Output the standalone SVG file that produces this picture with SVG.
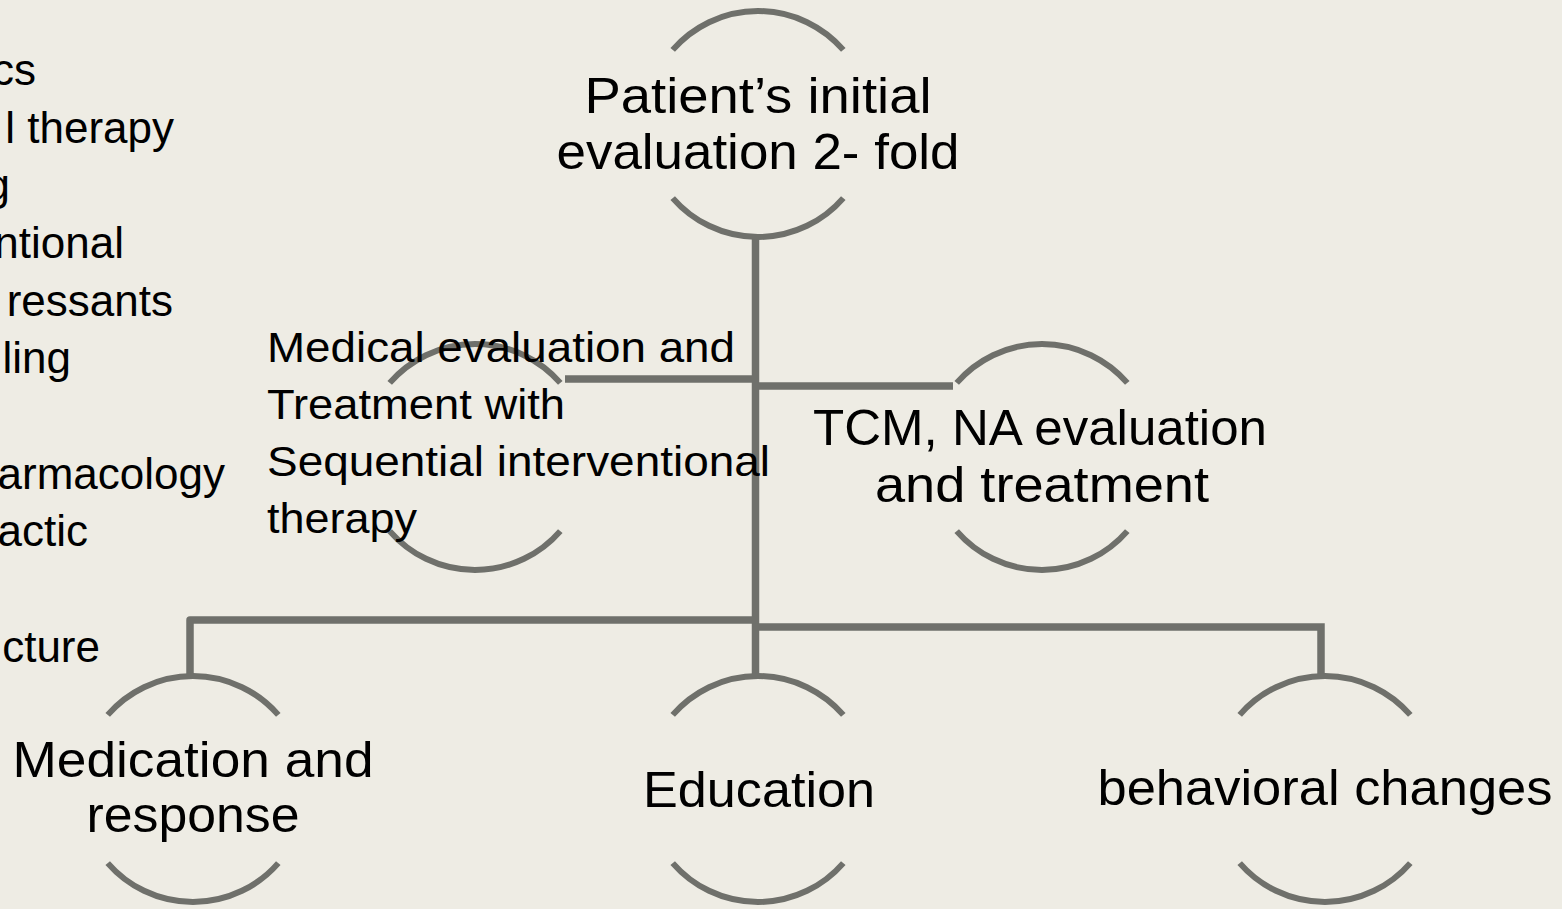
<svg xmlns="http://www.w3.org/2000/svg" width="1562" height="909" viewBox="0 0 1562 909">
<style>
.arc{fill:none;stroke:#6f706b;stroke-width:6}
.conn{fill:none;stroke:#6f706b;stroke-width:7.5}
.t{font-family:"Liberation Sans",Arial,sans-serif;fill:#000}
.big{font-size:50px}
.mid{font-size:43px}
.side{font-size:44px}
</style>
<rect width="1562" height="909" fill="#eeece4"/>
<g id="background-list" class="t side" text-anchor="end">
<text x="36" y="85">cs</text>
<text x="174" y="143">l therapy</text>
<text x="10" y="200">g</text>
<text x="124" y="258">ntional</text>
<text x="173" y="316">ressants</text>
<text x="71" y="373">ling</text>
<text x="225" y="489">armacology</text>
<text x="88" y="546">actic</text>
<text x="100" y="662">cture</text>
</g>
<g id="connectors">
<path class="conn" d="M755.5 236 V676"/>
<path class="conn" d="M755 379 H565"/>
<path class="conn" d="M755 386 H953"/>
<path class="conn" stroke-linejoin="round" d="M755 620 H190 V676"/>
<path class="conn" d="M755 627 H1321 V676"/>
</g>
<g id="node-initial">
<path class="arc" d="M672.7 49.9 A113 113 0 0 1 843.3 49.9"/>
<path class="arc" d="M672.7 198.1 A113 113 0 0 0 843.3 198.1"/>
<text class="t big" text-anchor="middle" x="758" y="113" textLength="347" lengthAdjust="spacingAndGlyphs">Patient’s initial</text>
<text class="t big" text-anchor="middle" x="758" y="169" textLength="403" lengthAdjust="spacingAndGlyphs">evaluation 2- fold</text>
</g>
<g id="node-medical">
<path class="arc" d="M389.7 382.9 A113 113 0 0 1 560.3 382.9"/>
<path class="arc" d="M389.7 531.1 A113 113 0 0 0 560.3 531.1"/>
<text class="t mid" x="267" y="362" textLength="468" lengthAdjust="spacingAndGlyphs">Medical evaluation and</text>
<text class="t mid" x="267" y="419" textLength="298" lengthAdjust="spacingAndGlyphs">Treatment with</text>
<text class="t mid" x="267" y="476" textLength="503" lengthAdjust="spacingAndGlyphs">Sequential interventional</text>
<text class="t mid" x="267" y="533" textLength="150" lengthAdjust="spacingAndGlyphs">therapy</text>
</g>
<g id="node-tcm">
<path class="arc" d="M956.7 382.9 A113 113 0 0 1 1127.3 382.9"/>
<path class="arc" d="M956.7 531.1 A113 113 0 0 0 1127.3 531.1"/>
<text class="t big" text-anchor="middle" x="1040" y="445" textLength="454" lengthAdjust="spacingAndGlyphs">TCM, NA evaluation</text>
<text class="t big" text-anchor="middle" x="1042" y="502" textLength="334" lengthAdjust="spacingAndGlyphs">and treatment</text>
</g>
<g id="node-medication">
<path class="arc" d="M107.7 714.9 A113 113 0 0 1 278.3 714.9"/>
<path class="arc" d="M107.7 863.1 A113 113 0 0 0 278.3 863.1"/>
<text class="t big" text-anchor="middle" x="193" y="777" textLength="361" lengthAdjust="spacingAndGlyphs">Medication and</text>
<text class="t big" text-anchor="middle" x="193" y="832" textLength="213" lengthAdjust="spacingAndGlyphs">response</text>
</g>
<g id="node-education">
<path class="arc" d="M672.7 714.9 A113 113 0 0 1 843.3 714.9"/>
<path class="arc" d="M672.7 863.1 A113 113 0 0 0 843.3 863.1"/>
<text class="t big" text-anchor="middle" x="759" y="807" textLength="232" lengthAdjust="spacingAndGlyphs">Education</text>
</g>
<g id="node-behavioral">
<path class="arc" d="M1239.7 714.9 A113 113 0 0 1 1410.3 714.9"/>
<path class="arc" d="M1239.7 863.1 A113 113 0 0 0 1410.3 863.1"/>
<text class="t big" text-anchor="middle" x="1325" y="805" textLength="455" lengthAdjust="spacingAndGlyphs">behavioral changes</text>
</g>
</svg>
